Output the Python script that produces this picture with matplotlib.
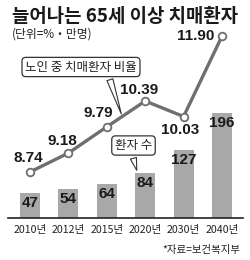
import matplotlib
matplotlib.use("Agg")
import matplotlib.pyplot as plt

years = ["2010년", "2012년", "2015년", "2020년", "2030년", "2040년"]
counts = [47, 54, 64, 84, 127, 196]
rates = [8.74, 9.18, 9.79, 10.39, 10.03, 11.90]

# label offsets (pixels) for the rate values
rate_off = [(-2, 14), (-6, 12), (-8, 14), (-6, 11), (-3, -13), (-8, 0)]

KR = ["Noto Sans CJK KR", "DejaVu Sans"]
NUM = ["Liberation Sans Narrow", "Liberation Sans", "DejaVu Sans"]
TICK = ["Liberation Sans Narrow", "Noto Sans CJK KR", "DejaVu Sans"]

fig = plt.figure(figsize=(2.5, 2.6), dpi=100)
ax = fig.add_axes([0, 42 / 260, 1, 218 / 260])
x = list(range(len(years)))

ax.bar(x, counts, width=0.52, color="#a8a8a8", zorder=1)
ax.set_xlim(-30 / 38.4, 220 / 38.4)
ax.set_ylim(0, 407)
for i, c in enumerate(counts):
    ax.annotate(str(c), (i, c), xytext=(0, -3), textcoords="offset pixels",
                ha="center", va="top", fontsize=11, fontweight="bold",
                family=NUM, color="#1a1a1a")

ax.axhline(0, xmin=0.03, xmax=0.97, color="#222222", lw=1.2, clip_on=False)
ax.set_xticks(x)
ax.set_xticklabels(years, family=TICK, fontsize=7.6, color="#222222")
ax.tick_params(axis="x", length=0, pad=5)
ax.set_yticks([])
for s in ax.spines.values():
    s.set_visible(False)

ax2 = ax.twinx()
ax2.set_ylim(7.67, 12.74)
ax2.plot(x, rates, color="#6f6f6f", lw=2.4, marker="o", ms=5.5,
         mfc="white", mec="#6f6f6f", mew=1.3, zorder=3)
for i, r in enumerate(rates):
    dx, dy = rate_off[i]
    ha = "right" if i == len(rates) - 1 else "center"
    ax2.annotate(f"{r:.2f}", (i, r), xytext=(dx, dy), textcoords="offset pixels",
                 ha=ha, va="center", fontsize=11, fontweight="bold",
                 family=NUM, color="#1a1a1a")
ax2.set_yticks([])
for s in ax2.spines.values():
    s.set_visible(False)

box = dict(boxstyle="round,pad=0.25,rounding_size=0.3", fc="white",
           ec="#333333", lw=0.9)
wedge = dict(arrowstyle="wedge,tail_width=0.5", fc="white", ec="#333333", lw=0.8)

t = 2.4
ax2.annotate("노인 중 치매환자 비율", (t, rates[2] + (t - 2) * (rates[3] - rates[2])),
             xytext=(81, 260 - 67), textcoords="figure pixels",
             ha="center", va="center", fontsize=9, family=KR, color="#222222",
             bbox=box, arrowprops=dict(wedge, relpos=(0.74, 0)), zorder=4)
ax.annotate("환자 수", (2.8, counts[3]), xytext=(133.5, 260 - 145.5),
            textcoords="figure pixels", ha="center", va="center", fontsize=9,
            family=KR, color="#222222", bbox=box,
            arrowprops=dict(wedge, relpos=(0.45, 0)), zorder=4)

fig.text(12 / 250, 1 - 16 / 260, "늘어나는 65세 이상 치매환자", family=KR,
         fontsize=13.6, fontweight="bold", va="center", ha="left", color="#1a1a1a")
fig.text(12 / 250, 1 - 34 / 260, "(단위=%・만명)", family=KR,
         fontsize=8.5, va="center", ha="left", color="#222222")
fig.text(240 / 250, 1 - 250 / 260, "*자료=보건복지부", family=KR,
         fontsize=7.5, va="center", ha="right", color="#222222")

fig.savefig("out.png", dpi=100)
